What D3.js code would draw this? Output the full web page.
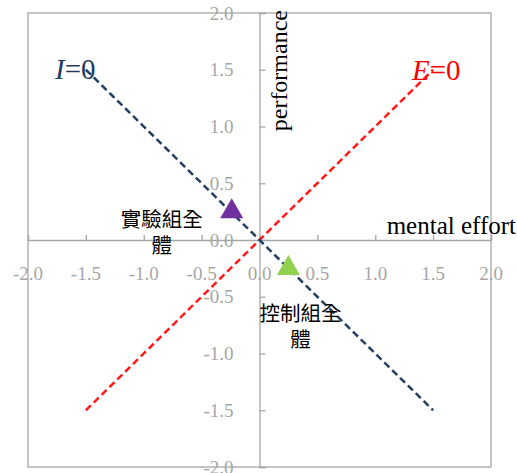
<!DOCTYPE html>
<html><head><meta charset="utf-8">
<script src="https://cdn.jsdelivr.net/npm/d3@7"></script>
<style>body{margin:0;background:#fff}svg{display:block}</style>
</head><body>
<svg id="c" width="517" height="473"></svg>
<script>
const xTicks = [-2.0, -1.5, -1.0, -0.5, 0.0, 0.5, 1.0, 1.5, 2.0];
const yTicks = [-2.0, -1.5, -1.0, -0.5, 0.0, 0.5, 1.0, 1.5, 2.0];
const lineI = [[-1.5, 1.5], [1.5, -1.5]];   // I=0
const lineE = [[-1.5, -1.5], [1.5, 1.5]];   // E=0
const groups = [
  {name: ["實驗組全", "體"], x: -0.24, y: 0.25, color: "#7030A0"},
  {name: ["控制組全", "體"], x: 0.25, y: -0.25, color: "#92D050"}
];

const svg = d3.select("#c");
const L = 28, R = 491, T = 13, B = 467;
const x = d3.scaleLinear().domain([-2, 2]).range([L, R]);
const y = d3.scaleLinear().domain([-2, 2]).range([B, T]);
const gray = "#A6A6A6";
const serif = "'Liberation Serif','Times New Roman',serif";
const cjk = "'Noto Sans CJK TC','Noto Sans CJK SC',sans-serif";

svg.append("rect").attr("x", L).attr("y", T).attr("width", R - L).attr("height", B - T)
  .attr("fill", "none").attr("stroke", gray).attr("stroke-width", 1.3);

// axes through origin
const xAxis = d3.axisTop(x).tickValues(xTicks).tickSize(5).tickFormat("");
const gx = svg.append("g").attr("transform", `translate(0,${y(0)})`).call(xAxis);
gx.select(".domain").attr("stroke", gray).attr("stroke-width", 1.3);
gx.selectAll(".tick line").attr("stroke", gray).attr("stroke-width", 1.3);

const yAxis = d3.axisRight(y).tickValues(yTicks).tickSize(6).tickFormat("");
const gy = svg.append("g").attr("transform", `translate(${x(0)},0)`).call(yAxis);
gy.select(".domain").attr("stroke", gray).attr("stroke-width", 1.3);
gy.selectAll(".tick line").attr("stroke", gray).attr("stroke-width", 1.3);

// tick labels
svg.append("g").selectAll("text").data(xTicks).join("text")
  .attr("x", d => x(d)).attr("y", y(0) + 40)
  .attr("text-anchor", "middle").attr("font-family", serif).attr("font-size", 19)
  .attr("fill", gray).text(d => d3.format(".1f")(d).replace("−", "-"));
svg.append("g").selectAll("text").data(yTicks).join("text")
  .attr("x", x(0) - 26).attr("y", d => y(d) + 6.5)
  .attr("text-anchor", "end").attr("font-family", serif).attr("font-size", 19)
  .attr("fill", gray).text(d => d3.format(".1f")(d).replace("−", "-"));

// lines
const line = d3.line().x(d => x(d[0])).y(d => y(d[1]));
svg.append("path").attr("d", line(lineE)).attr("fill", "none")
  .attr("stroke", "#FF1A1A").attr("stroke-width", 2.5).attr("stroke-dasharray", "7,4");
svg.append("path").attr("d", line(lineI)).attr("fill", "none")
  .attr("stroke", "#243F60").attr("stroke-width", 2.5).attr("stroke-dasharray", "7,4");

// triangles
const tri = d3.symbol().type(d3.symbolTriangle).size(230);
svg.append("g").selectAll("path").data(groups).join("path")
  .attr("d", tri).attr("transform", d => `translate(${x(d.x)},${y(d.y)})`)
  .attr("fill", d => d.color);

// group labels
const offs = [{dx: -70, dy: 15}, {dx: 12, dy: 53}];
groups.forEach((g, i) => {
  const t = svg.append("text").attr("font-family", cjk).attr("font-size", 20.5)
    .attr("fill", "#000").attr("text-anchor", "middle");
  g.name.forEach((s, j) => {
    t.append("tspan").attr("x", x(g.x) + offs[i].dx).attr("y", y(g.y) + offs[i].dy + j * 26).text(s);
  });
});

// axis titles
svg.append("text").attr("x", 516).attr("y", 234).attr("text-anchor", "end")
  .attr("font-family", serif).attr("font-size", 25).attr("fill", "#000").text("mental effort");
svg.append("text").attr("transform", `translate(${x(0) + 27},${10}) rotate(-90)`)
  .attr("text-anchor", "end").attr("font-family", serif).attr("font-size", 24)
  .attr("fill", "#000").text("performance");

// line labels
const il = svg.append("text").attr("x", 55).attr("y", 79).attr("font-family", serif)
  .attr("font-size", 29).attr("fill", "#1F3864");
il.append("tspan").attr("font-style", "italic").text("I");
il.append("tspan").text("=0");
const el = svg.append("text").attr("x", 412).attr("y", 80).attr("font-family", serif)
  .attr("font-size", 29).attr("fill", "#FF0000");
el.append("tspan").attr("font-style", "italic").text("E");
el.append("tspan").text("=0");
</script>
</body></html>
